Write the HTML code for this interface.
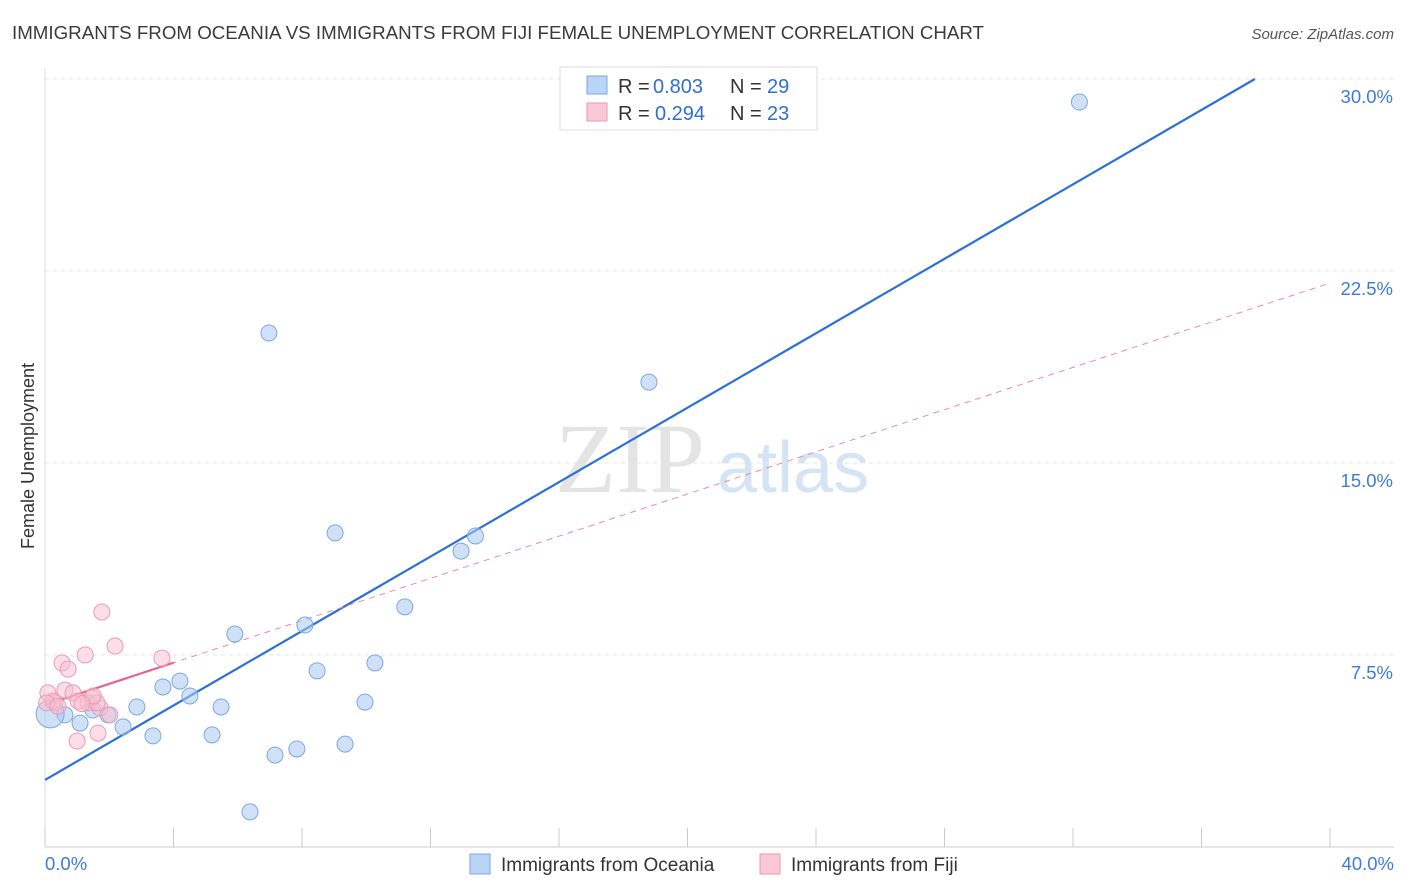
<!DOCTYPE html>
<html><head><meta charset="utf-8"><style>
body{margin:0;background:#fff;font-family:"Liberation Sans",sans-serif;}
</style></head><body>
<svg id="chart" width="1406" height="892" xmlns="http://www.w3.org/2000/svg" style="display:block">
<text x="12" y="39" font-size="18" fill="#3a3a3a" textLength="972" lengthAdjust="spacingAndGlyphs" font-family="Liberation Sans, sans-serif">IMMIGRANTS FROM OCEANIA VS IMMIGRANTS FROM FIJI FEMALE UNEMPLOYMENT CORRELATION CHART</text>
<text x="1394" y="39" font-size="15" fill="#555" text-anchor="end" font-style="italic">Source: ZipAtlas.com</text>
<g>
<text x="555" y="492" font-size="100" fill="#e4e4e4" font-family="Liberation Serif, serif">ZIP</text>
<text x="717" y="492" font-size="72" fill="#d5e4f5">atlas</text>
</g>
<g id="grid"></g>
<g id="axes"></g>
<g id="lines"></g>
<g id="points"></g>
<text transform="translate(34,456) rotate(-90)" text-anchor="middle" font-size="18" fill="#333">Female Unemployment</text>
<g>
<rect x="560" y="67" width="257" height="63" fill="#fff" stroke="#ddd"/>
<rect x="587" y="76" width="20" height="18" fill="#b9d4f5" stroke="#7aa8e0"/>
<rect x="587" y="103" width="20" height="18" fill="#f9c7d6" stroke="#ec9ab3"/>
<text x="618" y="93" font-size="20" fill="#333">R =</text>
<text x="653" y="93" font-size="20" fill="#2f6fd1">0.803</text>
<text x="730" y="93" font-size="20" fill="#333">N =</text>
<text x="767" y="93" font-size="20" fill="#2f6fd1">29</text>
<text x="618" y="120" font-size="20" fill="#333">R =</text>
<text x="655" y="120" font-size="20" fill="#2f6fd1">0.294</text>
<text x="730" y="120" font-size="20" fill="#333">N =</text>
<text x="767" y="120" font-size="20" fill="#2f6fd1">23</text>
</g>
<g>
<rect x="470" y="854" width="20" height="20" fill="#b9d4f5" stroke="#7aa8e0"/>
<text x="501" y="871" font-size="19" fill="#333">Immigrants from Oceania</text>
<rect x="760" y="854" width="20" height="20" fill="#f9c7d6" stroke="#ec9ab3"/>
<text x="791" y="871" font-size="19" fill="#333">Immigrants from Fiji</text>
</g>
</svg>
<script>
const xTicks=[0,4,8,12,16,20,24,28,32,36,40];
const yGrid=[7.5,15,22.5,30];
const yLabels=["7.5%","15.0%","22.5%","30.0%"];
const oceaniaX=[32.2,6.97,18.8,9.03,13.4,12.95,11.2,8.09,5.91,8.47,10.27,4.2,3.67,4.51,9.96,2.86,5.48,1.49,0.62,1.96,1.09,2.43,3.36,5.2,7.84,7.16,9.34,6.38,0.16];
const oceaniaY=[29.1,20.08,18.16,12.27,12.15,11.56,9.38,8.67,8.32,6.88,7.19,6.48,6.25,5.9,5.66,5.47,5.47,5.35,5.16,5.16,4.84,4.69,4.34,4.38,3.83,3.59,4.02,1.37,5.2];
const fijiX=[1.77,2.18,1.25,3.64,0.53,0.72,0.09,0.62,0.87,0.31,1.03,1.46,1.34,1.71,1.62,2.02,1.65,1.0,0.25,0.05,1.5,0.4,1.15];
const fijiY=[9.18,7.85,7.5,7.38,7.19,6.95,6.02,6.13,6.02,5.63,5.7,5.82,5.63,5.43,5.63,5.16,4.45,4.14,5.7,5.63,5.9,5.5,5.6];
const oceaniaTrend=[2.62,0.727];
const fijiTrend=[5.55,0.412];
const fijiSolidEnd=4;
const NS="http://www.w3.org/2000/svg";
const xs=v=>45+v*32.125, ys=v=>847-v*25.6;
function mk(tag,attrs,parent){const e=document.createElementNS(NS,tag);for(const k in attrs)e.setAttribute(k,attrs[k]);document.getElementById(parent).appendChild(e);return e;}
yGrid.forEach((g,i)=>{
 const l=mk('line',{x1:45,x2:1394,y1:ys(g),y2:ys(g),stroke:'#e6e6e6','stroke-dasharray':'4,4'},'grid');
 
 
 const t=mk('text',{x:1393,y:ys(g)+24,'text-anchor':'end','font-size':18.5,fill:'#3d7bd9'},'grid');
 t.textContent=yLabels[i];
 
 
});
const ax=mk('line',{x1:45,x2:1394,y1:847,y2:847,stroke:'#ccc'},'axes');


const ay=mk('line',{x1:45,x2:45,y1:68,y2:847,stroke:'#ddd'},'axes');


xTicks.forEach(v=>{const t=mk('line',{x1:xs(v),x2:xs(v),y1:828,y2:847,stroke:'#ccc'},'axes');
 
 });
const l0=mk('text',{x:45,y:870,'font-size':18.5,fill:'#3d7bd9'},'axes');l0.textContent='0.0%';


const l1=mk('text',{x:1394,y:870,'font-size':18.5,fill:'#3d7bd9','text-anchor':'end'},'axes');l1.textContent='40.0%';


const bx2=(30-oceaniaTrend[0])/oceaniaTrend[1];
const bl=mk('line',{x1:xs(0),y1:ys(oceaniaTrend[0]),x2:xs(bx2),y2:ys(30),stroke:'#2c6fd6','stroke-width':2.2},'lines');


const pd=mk('line',{x1:xs(0),y1:ys(fijiTrend[0]),x2:xs(40),y2:ys(fijiTrend[0]+fijiTrend[1]*40),stroke:'#e98aa8','stroke-width':1,'stroke-dasharray':'6,5'},'lines');


const ps=mk('line',{x1:xs(0),y1:ys(fijiTrend[0]),x2:xs(fijiSolidEnd),y2:ys(fijiTrend[0]+fijiTrend[1]*fijiSolidEnd),stroke:'#e8648e','stroke-width':2.2},'lines');


oceaniaX.forEach((v,i)=>{const c=mk('circle',{cx:xs(v),cy:ys(oceaniaY[i]),r:i===oceaniaX.length-1?14:8,fill:'rgba(170,200,240,0.55)',stroke:'#7aa8e0','stroke-width':1},'points');
 
 });
fijiX.forEach((v,i)=>{const c=mk('circle',{cx:xs(v),cy:ys(fijiY[i]),r:8,fill:'rgba(248,190,208,0.5)',stroke:'#ec9ab3','stroke-width':1},'points');
 
 });
</script>
</body></html>
